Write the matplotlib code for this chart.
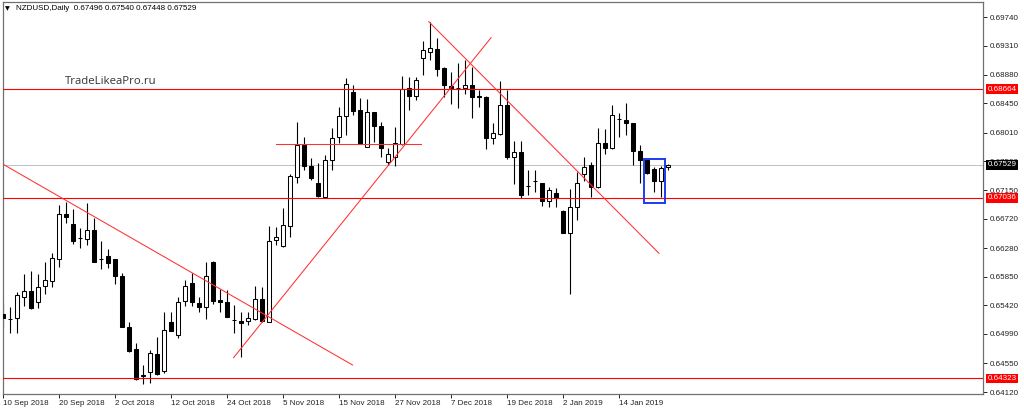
import matplotlib
matplotlib.use('Agg')
import matplotlib.pyplot as plt
import matplotlib.transforms as mtransforms
from matplotlib.patches import Rectangle
import numpy as np
import pandas as pd

# daily NZDUSD candles, 10 Sep 2018 .. 23 Jan 2019
opens = [0.65290, 0.65220, 0.65230, 0.65545, 0.65635, 0.65470, 0.65710, 0.65785, 0.66115, 0.66790,
         0.66640, 0.66430, 0.66415, 0.66550, 0.66115, 0.66160, 0.66115, 0.65860, 0.65095, 0.64765,
         0.64360, 0.64420, 0.64690, 0.64435, 0.65170, 0.64975, 0.65485, 0.65755, 0.65455, 0.65395,
         0.66070, 0.65500, 0.65470, 0.65200, 0.65185, 0.65185, 0.65215, 0.65515, 0.65170, 0.66400,
         0.66310, 0.66610, 0.67345, 0.67825, 0.67510, 0.67255, 0.67045, 0.67600, 0.67945, 0.68260,
         0.68620, 0.68350, 0.67795, 0.68320, 0.68110, 0.67570, 0.67645, 0.67840, 0.68680, 0.68560,
         0.69130, 0.69220, 0.69265, 0.68980, 0.68710, 0.68680, 0.68680, 0.68725, 0.68560, 0.68545,
         0.67930, 0.67990, 0.68425, 0.67645, 0.67720, 0.67210, 0.67285, 0.67255, 0.66985, 0.67105,
         0.66835, 0.66505, 0.66895, 0.67390, 0.67525, 0.67195, 0.67855, 0.67780, 0.68215, 0.68200,
         0.68155, 0.67735, 0.67600, 0.67465, 0.67285, 0.67496]
highs = [0.65455, 0.65395, 0.65620, 0.65890, 0.65935, 0.65890, 0.66070, 0.66205, 0.66925, 0.66970,
         0.66865, 0.66580, 0.66955, 0.66730, 0.66385, 0.66265, 0.66115, 0.65905, 0.65170, 0.64855,
         0.64525, 0.64750, 0.64945, 0.65320, 0.65320, 0.65545, 0.65800, 0.65905, 0.65545, 0.66070,
         0.66085, 0.65665, 0.65650, 0.65425, 0.65320, 0.65320, 0.65710, 0.65695, 0.66610, 0.66595,
         0.66880, 0.67390, 0.68170, 0.67945, 0.67630, 0.67555, 0.67675, 0.68080, 0.68395, 0.68830,
         0.68725, 0.68530, 0.68515, 0.68320, 0.68170, 0.67780, 0.68095, 0.68860, 0.68845, 0.68845,
         0.69385, 0.69670, 0.69430, 0.68995, 0.68920, 0.69055, 0.69100, 0.68995, 0.68650, 0.68560,
         0.68155, 0.68785, 0.68650, 0.67885, 0.67885, 0.67450, 0.67450, 0.67255, 0.67195, 0.67180,
         0.66850, 0.67165, 0.67420, 0.67645, 0.67570, 0.68080, 0.68065, 0.68425, 0.68305, 0.68455,
         0.68155, 0.67825, 0.67600, 0.67495, 0.67510, 0.67540]
lows = [0.65095, 0.65005, 0.65005, 0.65410, 0.65370, 0.65380, 0.65590, 0.65695, 0.65995, 0.66655,
        0.66340, 0.66280, 0.66325, 0.66065, 0.65965, 0.65980, 0.65740, 0.65095, 0.64720, 0.64300,
        0.64240, 0.64255, 0.64375, 0.64405, 0.65030, 0.64930, 0.65410, 0.65410, 0.65320, 0.65215,
        0.65440, 0.65320, 0.65245, 0.65005, 0.64645, 0.65125, 0.65200, 0.65170, 0.65165, 0.66325,
        0.66295, 0.66445, 0.67255, 0.67450, 0.67300, 0.67045, 0.67040, 0.67450, 0.67855, 0.67975,
        0.68275, 0.67840, 0.67790, 0.67870, 0.67645, 0.67525, 0.67510, 0.67825, 0.68350, 0.68500,
        0.68875, 0.69100, 0.68860, 0.68545, 0.68440, 0.68380, 0.68590, 0.68230, 0.68395, 0.67765,
        0.67840, 0.67975, 0.67615, 0.67240, 0.67030, 0.67075, 0.67120, 0.66910, 0.66895, 0.66895,
        0.66500, 0.65590, 0.66700, 0.67285, 0.67045, 0.67180, 0.67690, 0.67770, 0.67945, 0.67975,
        0.67525, 0.67255, 0.67390, 0.67120, 0.67045, 0.67448]
closes = [0.65230, 0.65210, 0.65575, 0.65635, 0.65380, 0.65695, 0.65800, 0.66130, 0.66790, 0.66745,
          0.66385, 0.66425, 0.66550, 0.66070, 0.66110, 0.66055, 0.65860, 0.65095, 0.64735, 0.64310,
          0.64375, 0.64705, 0.64390, 0.65050, 0.65035, 0.65470, 0.65710, 0.65470, 0.65395, 0.65860,
          0.65485, 0.65470, 0.65245, 0.65195, 0.65155, 0.65230, 0.65515, 0.65185, 0.66385, 0.66445,
          0.66625, 0.67360, 0.67825, 0.67510, 0.67330, 0.67060, 0.67600, 0.67930, 0.68260, 0.68740,
          0.68335, 0.67840, 0.68320, 0.68110, 0.67780, 0.67690, 0.67855, 0.68665, 0.68560, 0.68800,
          0.69250, 0.69280, 0.68965, 0.68725, 0.68680, 0.68675, 0.68725, 0.68545, 0.68545, 0.67930,
          0.68005, 0.68425, 0.67645, 0.67720, 0.67075, 0.67205, 0.67280, 0.66985, 0.67150, 0.67030,
          0.66505, 0.66895, 0.67255, 0.67495, 0.67195, 0.67855, 0.67780, 0.68275, 0.68210, 0.68155,
          0.67735, 0.67600, 0.67405, 0.67285, 0.67480, 0.67529]

dates = pd.bdate_range('2018-09-10', periods=len(opens), freq='C',
                       holidays=['2018-12-25', '2019-01-01'])

# price scale on the right
ytick_vals = [0.69740, 0.69310, 0.68880, 0.68450, 0.68010, 0.67580, 0.67150,
              0.66720, 0.66280, 0.65850, 0.65420, 0.64990, 0.64550, 0.64120]

# horizontal levels
red_levels = [0.68664, 0.67036, 0.64323]
bid_price = 0.67529

# trend lines as (bar index, price) pairs
trend_lines = [
    [(-0.1, 0.67540), (49.9, 0.64525)],
    [(32.9, 0.64635), (69.7, 0.69435)],
    [(60.8, 0.69675), (93.7, 0.66200)],
    [(38.9, 0.67835), (59.7, 0.67835)],
]
box_bars = (91.6, 94.6)
box_prices = (0.66955, 0.67615)

header = "NZDUSD,Daily  0.67496 0.67540 0.67448 0.67529"
watermark = "TradeLikeaPro.ru"

font = ['Liberation Sans', 'DejaVu Sans']
fs = 5.8

fig = plt.figure(figsize=(10.24, 4.13), dpi=100)
ax = fig.add_axes([3 / 1024, 19 / 413, 980 / 1024, 392 / 413])

x = np.arange(len(opens))
o = np.array(opens)
c = np.array(closes)

ax.vlines(x, lows, highs, color='black', lw=0.8, zorder=2)
face = ['white' if cc > oo else 'black' for oo, cc in zip(o, c)]
ax.bar(x, np.abs(c - o), bottom=np.minimum(o, c), width=0.58, color=face,
       edgecolor='black', linewidth=0.75, zorder=3)

for lvl in red_levels:
    ax.axhline(lvl, color='#ff0000', lw=0.8, zorder=4)
ax.axhline(bid_price, color='#c0c0c0', lw=0.7, zorder=1)

for (b0, p0), (b1, p1) in trend_lines:
    ax.plot([b0, b1], [p0, p1], color='#ff3030', lw=0.75, zorder=4)

ax.add_patch(Rectangle((box_bars[0], box_prices[0]), box_bars[1] - box_bars[0],
                       box_prices[1] - box_prices[0], fill=False,
                       edgecolor='#1c3cf0', lw=1.4, zorder=5))

ax.set_xlim(-0.05, 140.0)
ax.set_ylim(0.6409, 0.6997)

ax.yaxis.tick_right()
ax.set_yticks(ytick_vals)
ax.set_yticklabels([f"{v:.5f}" for v in ytick_vals], fontsize=fs, family=font)
ax.tick_params(axis='y', length=3, width=0.7, pad=2, colors='#222222')

tick_idx = list(range(0, 89, 8))
ax.set_xticks(tick_idx)
ax.set_xticklabels([f"{dates[i].day} {dates[i]:%b %Y}" for i in tick_idx],
                   fontsize=fs, family=font, ha='left')
ax.tick_params(axis='x', length=3, width=0.7, pad=1.5, colors='#222222')

for sp in ax.spines.values():
    sp.set_color('#707070')
    sp.set_linewidth(0.9)

# price tags on the scale
trans = mtransforms.blended_transform_factory(ax.transAxes, ax.transData)
for lvl in red_levels:
    ax.text(1.0045, lvl, f"{lvl:.5f}", transform=trans, color='white', fontsize=fs,
            family=font, va='center', ha='left', zorder=10, clip_on=False,
            bbox=dict(boxstyle='square,pad=0.18', fc='#ff0000', ec='none'))
ax.text(1.0045, bid_price, f"{bid_price:.5f}", transform=trans, color='white', fontsize=fs,
        family=font, va='center', ha='left', zorder=10, clip_on=False,
        bbox=dict(boxstyle='square,pad=0.18', fc='black', ec='none'))

fig.text(5 / 1024, 1 - 9 / 413, "\u25bc", fontsize=4.5, family='DejaVu Sans', va='center')
fig.text(16 / 1024, 1 - 9 / 413, header, fontsize=fs, family=font, va='center')
ax.text(62 / 980, 1 - (82 - 2) / 392, watermark, transform=ax.transAxes, fontsize=8.2,
        family=['Open Sans', 'DejaVu Sans'], color='#333333', va='center', ha='left')

fig.savefig('out.png', dpi=100)
